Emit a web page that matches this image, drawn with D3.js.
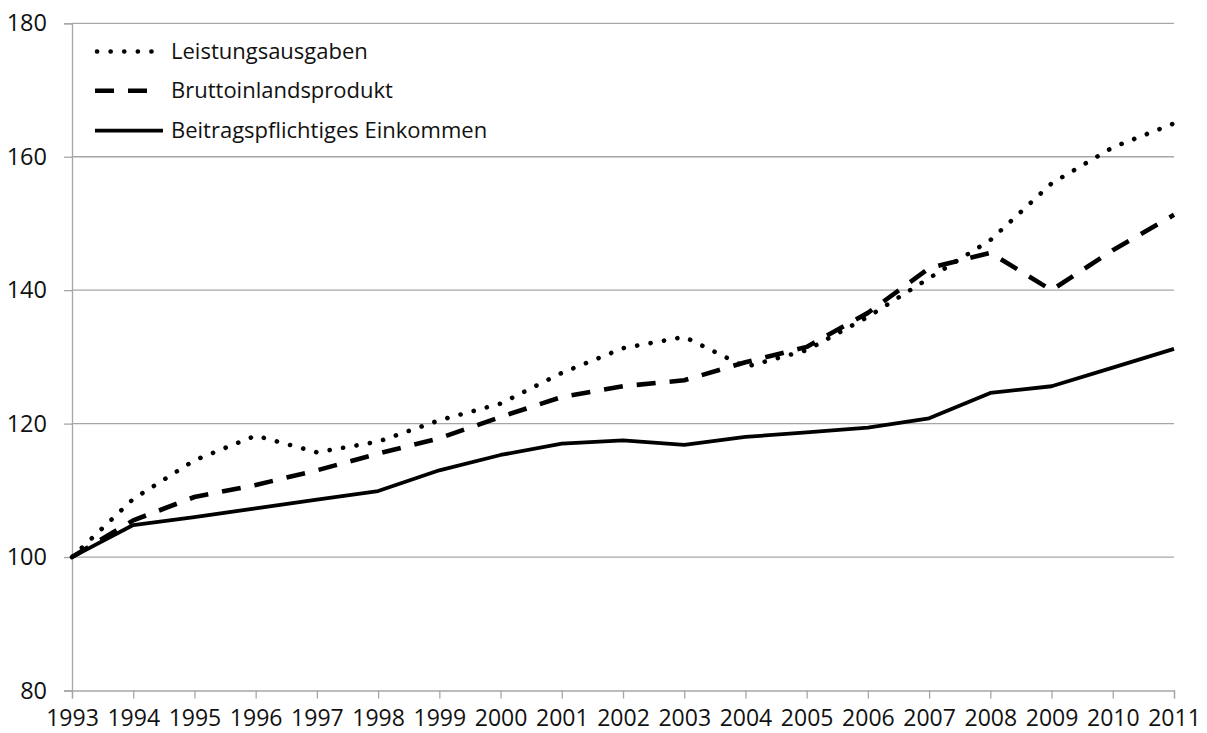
<!DOCTYPE html>
<html>
<head>
<meta charset="utf-8">
<script src="https://cdn.jsdelivr.net/npm/d3@7"></script>
<style>
  body { margin: 0; background: #fff; }
  text { font-family: "Open Sans", Lato, sans-serif; fill: #111; }
</style>
</head>
<body>
<svg id="chart" width="1207" height="733"></svg>
<script>
// years on the x axis
const years = [1993, 1994, 1995, 1996, 1997, 1998, 1999, 2000, 2001, 2002,
               2003, 2004, 2005, 2006, 2007, 2008, 2009, 2010, 2011]

// index values, 1993 = 100
const leistungsausgaben = [100, 108.7, 114.5, 118.2, 115.7, 117.3, 120.5, 123.0, 127.6, 131.3,
                           133.0, 128.5, 131.0, 136.0, 141.8, 147.5, 156.0, 161.4, 165.0]
const bruttoinlandsprodukt = [100, 105.5, 109.0, 110.8, 113.0, 115.5, 117.8, 121.0, 124.0, 125.6,
                              126.5, 129.2, 131.5, 136.6, 143.3, 145.6, 140.0, 146.0, 151.3]
const beitragspflichtig = [100, 104.8, 106.0, 107.3, 108.6, 109.9, 113.0, 115.3, 117.0, 117.5,
                           116.8, 118.0, 118.7, 119.4, 120.8, 124.6, 125.6, 128.4, 131.2]

const yTicks = [80, 100, 120, 140, 160, 180]

const seriesNames = ["Leistungsausgaben", "Bruttoinlandsprodukt", "Beitragspflichtiges Einkommen"]

const series = [
  {name: seriesNames[0], values: leistungsausgaben, dash: "0.1 13.5"},
  {name: seriesNames[1], values: bruttoinlandsprodukt, dash: "19 14"},
  {name: seriesNames[2], values: beitragspflichtig, dash: null}
]

const svg = d3.select("#chart")
const plotLeft = 72, plotRight = 1174, plotTop = 23.3, plotBottom = 690.5

const x = d3.scaleLinear().domain([1993, 2011]).range([plotLeft, plotRight])
const y = d3.scaleLinear().domain([80, 180]).range([plotBottom, plotTop])

// gridlines
svg.append("g")
  .selectAll("line")
  .data(yTicks.filter(d => d > 80))
  .enter().append("line")
    .attr("x1", plotLeft).attr("x2", plotRight)
    .attr("y1", d => y(d)).attr("y2", d => y(d))
    .attr("stroke", "#a6a6a6")
    .attr("stroke-width", 1.3)

// y axis
const yAxis = svg.append("g")
  .attr("transform", "translate(" + plotLeft + ",0)")
  .call(d3.axisLeft(y).tickValues(yTicks).tickSize(8).tickPadding(17))
yAxis.select(".domain").attr("stroke", "#a6a6a6").attr("stroke-width", 1.3)
yAxis.selectAll(".tick line").attr("stroke", "#a6a6a6").attr("stroke-width", 1.3)
yAxis.selectAll("text").style("font-size", "23.5px").attr("fill", "#111")

// x axis
const xAxis = svg.append("g")
  .attr("transform", "translate(0," + plotBottom + ")")
  .call(d3.axisBottom(x).tickValues(years).tickFormat(d3.format("d")).tickSize(8).tickPadding(11))
xAxis.select(".domain").attr("stroke", "#a6a6a6").attr("stroke-width", 1.3)
xAxis.selectAll(".tick line").attr("stroke", "#a6a6a6").attr("stroke-width", 1.3)
xAxis.selectAll("text").style("font-size", "23px").attr("fill", "#111")

const line = d3.line()
  .x((d, i) => x(years[i]))
  .y(d => y(d))

function isDotted(s){ return s.dash && s.dash.startsWith("0.1") }

// draw solid first so dotted/dashed sit on top
svg.append("g")
  .selectAll("path")
  .data(series.slice().reverse())
  .enter().append("path")
    .attr("d", d => line(d.values))
    .attr("fill", "none")
    .attr("stroke", "#000")
    .attr("stroke-width", d => d.dash ? 4.6 : 3.8)
    .attr("stroke-linecap", d => isDotted(d) ? "round" : "butt")
    .attr("stroke-linejoin", "round")
    .attr("stroke-dasharray", d => d.dash)

// legend
const legend = svg.append("g")
const rowY = [51.5, 90.7, 130.7]
const sampleEnd = [164, 148, 163]
series.forEach(function(s, i){
  legend.append("line")
    .attr("x1", isDotted(s) ? 97 : 95)
    .attr("x2", sampleEnd[i])
    .attr("y1", rowY[i]).attr("y2", rowY[i])
    .attr("stroke", "#000")
    .attr("stroke-width", s.dash ? 4.6 : 3.8)
    .attr("stroke-linecap", isDotted(s) ? "round" : "butt")
    .attr("stroke-dasharray", s.dash)
  legend.append("text")
    .attr("x", 171)
    .attr("y", rowY[i])
    .attr("dy", "0.33em")
    .style("font-size", "22px")
    .text(s.name)
})
</script>
</body>
</html>
